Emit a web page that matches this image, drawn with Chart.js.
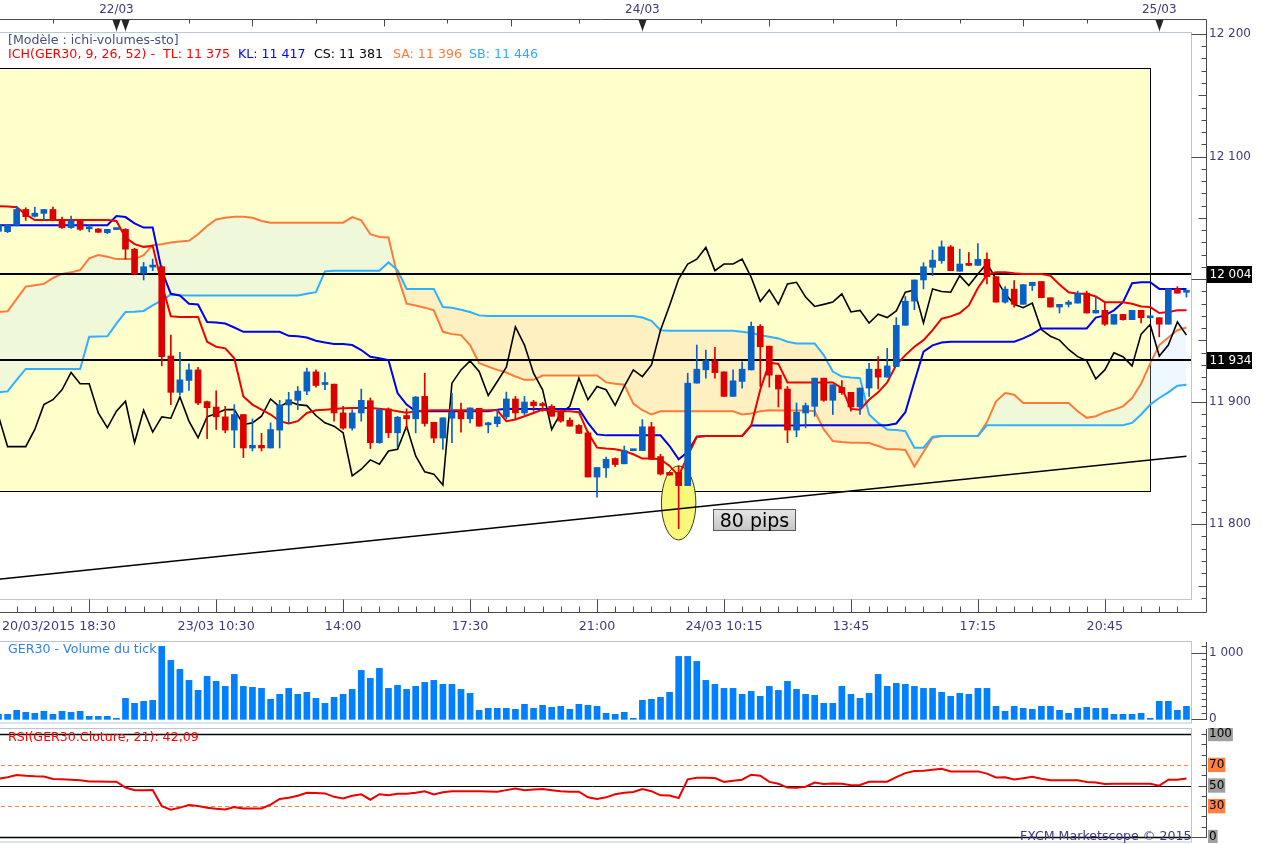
<!DOCTYPE html>
<html>
<head>
<meta charset="utf-8">
<title>GER30 ichimoku</title>
<script src="https://cdn.jsdelivr.net/npm/chart.js"></script>
<style>
  html, body { margin: 0; padding: 0; background: #fff; overflow: hidden; }
  #wrap { position: relative; width: 1263px; height: 844px; overflow: hidden; font-family: "DejaVu Sans", sans-serif; font-size: 12.6px; }
  canvas { position: absolute; left: -6px; }
  .txt { position: absolute; white-space: nowrap; line-height: 14px; }
  #pips { position: absolute; left: 713px; top: 509px; width: 81px; height: 20px; border: 1px solid #5a5a5a;
          background: linear-gradient(#e6e6e6, #c6c6c6); font-size: 19px; line-height: 20px; text-align: center; color: #000; }
</style>
</head>
<body>
<div id="wrap">
  <canvas id="main" width="1269" height="640" style="top:0"></canvas>
  <canvas id="vol" width="1269" height="83" style="top:641px"></canvas>
  <canvas id="rsi" width="1269" height="115" style="top:728px"></canvas>

  <div class="txt" style="left:8px;top:33px;color:#44507e">[Modèle : ichi-volumes-sto]</div>
  <div class="txt" style="left:8px;top:47px;color:#ff0000">ICH(GER30, 9, 26, 52) -</div>
  <div class="txt" style="left:163px;top:47px;color:#ff0000">TL: 11 375</div>
  <div class="txt" style="left:238px;top:47px;color:#0000ff">KL: 11 417</div>
  <div class="txt" style="left:314px;top:47px;color:#000000">CS: 11 381</div>
  <div class="txt" style="left:393px;top:47px;color:#ff7a3a">SA: 11 396</div>
  <div class="txt" style="left:469px;top:47px;color:#2eaaff">SB: 11 446</div>
  <div class="txt" style="left:8px;top:642px;color:#2f80f0">GER30 - Volume du tick</div>
  <div class="txt" style="left:8px;top:730px;color:#ff0000">RSI(GER30.Cloture, 21): 42,09</div>
  <div class="txt" style="left:1020px;top:829px;color:#3a3a80">FXCM Marketscope © 2015</div>
  <div id="pips">80 pips</div>
</div>

<script>
// 15 min candles, GER30
const opens = [
  12039, 12038.7, 12043.9, 12056.8, 12051.2, 12053.6, 12056.8, 12048.7, 12042.0, 12047.4,
  12041.0, 12040.9, 12037.9, 12040.4, 12040.6, 12024.4, 12004.7, 12009.8, 12010.1, 11937.3,
  11907.6, 11917.3, 11925.9, 11900.0, 11895.6, 11887.6, 11876.8, 11889.5, 11862.2, 11864.4,
  11862.2, 11876.8, 11897.3, 11901.1, 11908.6, 11924.3, 11914.0, 11914.3, 11890.8, 11878.4,
  11890.8, 11900.8, 11866.5, 11894.1, 11874.6, 11888.7, 11886.0, 11904.3, 11883.2, 11870.3,
  11886.5, 11892.2, 11886.0, 11894.6, 11881.1, 11882.0, 11887.6, 11902.2, 11890.8, 11899.7,
  11897.1, 11896.2, 11892.2, 11884.9, 11880.6, 11874.6, 11838.5, 11846.0, 11853.6, 11849.3,
  11860.0, 11860.1, 11879.5, 11855.2, 11842.3, 11842.3, 11831.5, 11915.1, 11926.0, 11933.2,
  11924.3, 11904.3, 11916.5, 11925.9, 11961.5, 11945.3, 11921.6, 11910.3, 11876.8, 11890.8,
  11896.2, 11919.2, 11901.1, 11911.6, 11907.6, 11895.7, 11911.1, 11926.5, 11920.0, 11928.6,
  11962.3, 11982.0, 11999.3, 12009.6, 12015.0, 12026.3, 12006.4, 12012.3, 12011.2, 12016.1,
  12002.0, 11981.2, 11991.8, 11979.4, 11994.7, 11998.0, 11984.8, 11977.2, 11979.4, 11980.4,
  11988.5, 11972.3, 11974.5, 11963.2, 11971.2, 11966.9, 11974.5, 11968.4, 11968.5, 11963.2,
  11992.0, 11989.2
];
const highs = [
  12046, 12044.7, 12059.5, 12058.2, 12058.7, 12056.8, 12058.7, 12050.6, 12051.4, 12048.7,
  12043.9, 12041.2, 12040.6, 12040.7, 12041.2, 12025.2, 12013.6, 12016.3, 12010.9, 11954.3,
  11940.2, 11930.8, 11928.1, 11900.5, 11908.9, 11896.2, 11897.6, 11889.5, 11885.9, 11874.1,
  11882.7, 11901.1, 11907.6, 11912.4, 11927.3, 11925.9, 11923.7, 11914.3, 11896.2, 11893.5,
  11910.3, 11903.0, 11894.6, 11894.9, 11888.1, 11894.1, 11904.3, 11923.2, 11883.2, 11886.8,
  11907.0, 11898.9, 11894.9, 11894.6, 11883.2, 11893.5, 11907.8, 11904.3, 11904.3, 11901.1,
  11899.5, 11897.6, 11893.5, 11886.8, 11881.4, 11875.7, 11846.3, 11854.7, 11854.1, 11863.8,
  11860.4, 11885.4, 11883.2, 11857.1, 11842.3, 11847.6, 11923.2, 11946.2, 11942.1, 11944.3,
  11924.3, 11925.9, 11932.4, 11965.0, 11962.9, 11945.3, 11921.6, 11912.4, 11898.9, 11898.9,
  11919.2, 11919.2, 11913.8, 11917.3, 11907.6, 11911.1, 11931.3, 11936.7, 11943.5, 11968.6,
  11985.8, 11999.3, 12013.4, 12023.6, 12031.2, 12027.4, 12024.4, 12021.7, 12029.0, 12021.5,
  12002.0, 11993.9, 11998.8, 11995.5, 11997.4, 11998.0, 11984.8, 11979.4, 11982.6, 11990.2,
  11990.2, 11985.3, 11980.4, 11971.2, 11971.2, 11974.5, 11974.5, 11969.5, 11968.5, 11992.0,
  11993.9, 11990.7
];
const lows = [
  12037, 12037.9, 12043.3, 12047.9, 12050.6, 12047.9, 12047.9, 12041.4, 12041.4, 12039.8,
  12038.5, 12038.0, 12037.1, 12040.3, 12016.3, 12003.6, 11999.3, 12006.9, 11929.2, 11897.6,
  11905.7, 11909.2, 11897.6, 11869.8, 11877.3, 11874.6, 11862.5, 11854.4, 11859.8, 11859.8,
  11862.2, 11862.2, 11882.7, 11893.5, 11905.7, 11911.9, 11909.7, 11884.1, 11877.3, 11876.8,
  11884.1, 11861.7, 11866.0, 11870.6, 11862.5, 11877.3, 11874.6, 11880.0, 11866.5, 11861.1,
  11866.5, 11875.2, 11882.7, 11880.0, 11874.6, 11879.5, 11886.0, 11885.4, 11889.5, 11892.2,
  11892.2, 11888.1, 11883.2, 11880.0, 11874.1, 11838.5, 11822.0, 11838.2, 11847.1, 11849.3,
  11859.9, 11860.1, 11853.0, 11840.1, 11840.1, 11796.4, 11831.5, 11915.1, 11919.2, 11919.2,
  11904.3, 11904.3, 11911.1, 11925.9, 11912.4, 11911.9, 11895.7, 11866.5, 11871.4, 11878.7,
  11888.1, 11900.3, 11889.5, 11906.0, 11892.2, 11889.5, 11904.3, 11910.3, 11920.0, 11928.6,
  11962.3, 11975.0, 11992.0, 12002.8, 12012.8, 12006.9, 12006.4, 12011.2, 12011.2, 11996.1,
  11981.2, 11980.4, 11977.2, 11979.4, 11990.7, 11984.8, 11977.2, 11972.3, 11977.2, 11980.4,
  11972.3, 11972.3, 11962.3, 11963.2, 11966.4, 11966.9, 11964.2, 11967.9, 11952.9, 11963.2,
  11988.5, 11985.3
];
const closes = [
  12044, 12044.1, 12056.8, 12050.9, 12053.8, 12056.8, 12048.7, 12042.0, 12047.4, 12040.6,
  12041.4, 12038.2, 12040.6, 12040.6, 12024.4, 12004.2, 12010.1, 12010.2, 11936.7, 11907.6,
  11917.8, 11925.9, 11898.9, 11895.1, 11887.6, 11876.8, 11889.5, 11862.2, 11864.4, 11862.2,
  11877.3, 11897.3, 11901.6, 11908.6, 11924.3, 11913.2, 11914.6, 11890.8, 11878.4, 11890.8,
  11901.1, 11866.5, 11893.5, 11874.6, 11887.3, 11886.0, 11903.8, 11882.2, 11870.3, 11886.8,
  11891.4, 11886.0, 11894.9, 11880.0, 11882.7, 11887.6, 11902.2, 11890.8, 11899.7, 11896.8,
  11896.8, 11888.1, 11884.1, 11880.0, 11874.1, 11838.5, 11846.3, 11853.0, 11848.7, 11860.1,
  11860.2, 11879.5, 11853.0, 11840.9, 11840.1, 11831.5, 11915.1, 11926.5, 11933.5, 11923.7,
  11904.3, 11917.0, 11926.5, 11961.5, 11944.8, 11921.6, 11910.3, 11876.8, 11891.4, 11896.8,
  11919.2, 11901.1, 11913.8, 11907.3, 11895.7, 11911.1, 11926.5, 11920.0, 11929.2, 11962.3,
  11982.0, 11999.3, 12010.1, 12015.5, 12026.3, 12006.9, 12012.3, 12011.2, 12016.1, 12002.0,
  11981.2, 11991.8, 11979.4, 11995.5, 11997.4, 11984.8, 11977.2, 11979.4, 11981.2, 11988.5,
  11972.3, 11974.5, 11963.2, 11971.2, 11966.9, 11974.5, 11968.5, 11968.6, 11963.2, 11992.0,
  11988.5, 11989.5
];

// ichimoku lines
const tenkan = [
  12059.5, 12059.2, 12058.7, 12052.8, 12048.2, 12048.2, 12048.2, 12048.2, 12048.2, 12048.2,
  12048.2, 12048.2, 12048.2, 12047.4, 12033.9, 12028.5, 12026.3, 12027.1, 11996.1, 11969.6,
  11969.1, 11969.1, 11969.1, 11948.9, 11944.8, 11943.5, 11935.4, 11904.3, 11897.6, 11893.5,
  11889.5, 11884.1, 11882.2, 11884.1, 11890.8, 11893.0, 11893.5, 11894.1, 11894.6, 11894.9,
  11894.9, 11894.9, 11894.3, 11893.5, 11892.2, 11891.0, 11892.2, 11892.7, 11893.0, 11893.0,
  11893.0, 11893.0, 11893.0, 11893.0, 11893.0, 11893.0, 11884.1, 11885.4, 11888.1, 11890.8,
  11893.5, 11892.2, 11892.2, 11892.2, 11891.4, 11874.6, 11862.5, 11861.7, 11861.1, 11859.8,
  11857.1, 11853.6, 11853.6, 11853.0, 11847.6, 11839.5, 11855.7, 11871.4, 11872.0, 11872.0,
  11872.0, 11872.0, 11872.0, 11880.6, 11909.7, 11931.9, 11930.8, 11915.7, 11915.7, 11915.7,
  11915.7, 11915.7, 11915.7, 11911.1, 11894.1, 11893.5, 11901.6, 11907.6, 11915.7, 11930.0,
  11938.0, 11944.8, 11950.2, 11958.3, 11967.7, 11969.6, 11972.3, 11978.5, 11992.8, 12003.4,
  12005.5, 12005.5, 12004.7, 12004.2, 12004.2, 12004.2, 12002.8, 11995.5, 11989.3, 11988.0,
  11988.0, 11985.8, 11981.2, 11981.2, 11981.2, 11979.9, 11977.7, 11977.2, 11972.3, 11973.2,
  11974.5, 11974.5
];
const kijun = [
  12043.9, 12043.9, 12043.9, 12043.9, 12043.9, 12043.9, 12043.9, 12043.9, 12043.9, 12043.9,
  12043.9, 12043.9, 12043.9, 12051.4, 12050.6, 12045.5, 12042.0, 12042.0, 12006.9, 11988.0,
  11986.6, 11979.9, 11979.3, 11965.0, 11964.5, 11963.7, 11960.5, 11957.0, 11957.0, 11957.0,
  11957.0, 11957.0, 11953.7, 11953.4, 11952.4, 11949.7, 11948.3, 11947.0, 11947.0, 11946.2,
  11942.1, 11936.7, 11935.4, 11934.0, 11907.0, 11897.6, 11892.2, 11892.2, 11892.2, 11892.2,
  11892.2, 11892.2, 11892.2, 11892.2, 11892.2, 11893.5, 11894.3, 11894.1, 11894.1, 11894.1,
  11894.1, 11894.1, 11894.1, 11894.1, 11894.1, 11882.7, 11873.3, 11872.5, 11872.5, 11872.5,
  11872.5, 11872.5, 11872.5, 11872.5, 11863.8, 11853.0, 11859.0, 11871.4, 11872.0, 11872.0,
  11872.0, 11872.0, 11872.0, 11880.6, 11880.6, 11880.6, 11880.6, 11880.6, 11880.6, 11880.8,
  11880.8, 11880.8, 11880.8, 11880.8, 11880.8, 11880.8, 11880.8, 11880.8, 11880.8, 11882.2,
  11891.4, 11916.5, 11940.8, 11945.9, 11948.3, 11948.9, 11948.9, 11948.9, 11948.9, 11948.9,
  11948.9, 11948.9, 11948.9, 11951.6, 11955.1, 11959.7, 11959.7, 11959.7, 11959.7, 11959.7,
  11959.7, 11968.6, 11970.4, 11974.5, 11981.2, 11996.6, 11997.4, 11997.4, 11992.0, 11992.0,
  11992.0, 11992.0
];
const chikou = [
  11888.1, 11863.3, 11863.3, 11863.3, 11877.3, 11897.6, 11901.6, 11909.7, 11923.8, 11914.6,
  11914.6, 11890.8, 11878.7, 11892.2, 11900.3, 11866.5, 11893.0, 11875.2, 11887.6, 11886.5,
  11903.8, 11884.1, 11870.6, 11887.6, 11890.3, 11893.5, 11893.5, 11881.4, 11882.7, 11888.1,
  11902.2, 11895.7, 11900.3, 11897.6, 11896.8, 11888.7, 11882.7, 11880.0, 11874.6, 11839.5,
  11844.9, 11852.5, 11849.0, 11859.8, 11861.1, 11880.0, 11855.7, 11842.8, 11840.9, 11832.0,
  11915.1, 11925.9, 11933.2, 11924.6, 11905.1, 11916.5, 11928.1, 11961.0, 11946.2, 11923.2,
  11909.7, 11877.3, 11890.8, 11896.2, 11919.2, 11901.6, 11912.4, 11909.7, 11897.0, 11912.4,
  11925.9, 11920.5, 11930.0, 11958.3, 11978.5, 12000.1, 12012.3, 12016.3, 12025.8, 12006.9,
  12012.3, 12012.3, 12016.3, 12001.5, 11981.8, 11991.2, 11979.4, 11996.1, 11997.4, 11985.3,
  11977.7, 11979.4, 11981.2, 11988.0, 11973.2, 11974.5, 11964.2, 11971.3, 11968.6, 11974.0,
  11989.3, 11991.2, 11964.2, 11992.0, 11989.9, 11989.3, 12002.8, 11994.7, 12004.2, 12012.8,
  12000.1, 11988.0, 11979.4, 11976.7, 11980.4, 11958.8, 11953.4, 11950.2, 11942.6, 11936.7,
  11933.5, 11918.6, 11925.9, 11939.9, 11936.7, 11929.2, 11955.1, 11962.9, 11937.2, 11946.2,
  11965.0, 11954.3
];
const senkouA = [
  11973.2, 11973.7, 11983.9, 11993.9, 11995.0, 11996.1, 12000.9, 12004.2, 12005.5, 12007.4,
  12016.9, 12019.6, 12018.2, 12016.3, 12016.3, 12016.3, 12019.6, 12027.7, 12028.5, 12029.8,
  12030.6, 12031.2, 12036.6, 12043.3, 12048.7, 12050.1, 12050.9, 12050.9, 12050.1, 12047.4,
  12046.0, 12046.0, 12046.0, 12046.0, 12046.0, 12046.0, 12046.0, 12046.0, 12046.0, 12050.6,
  12047.9, 12036.6, 12034.4, 12033.9, 12002.8, 11979.9, 11978.5, 11976.7, 11974.5, 11957.0,
  11955.1, 11954.3, 11946.2, 11931.3, 11928.6, 11925.9, 11923.8, 11920.5, 11917.8, 11917.8,
  11921.3, 11921.3, 11921.3, 11921.3, 11921.3, 11921.3, 11921.3, 11915.7, 11914.6, 11913.8,
  11898.4, 11893.0, 11889.5, 11892.2, 11892.2, 11892.2, 11892.2, 11892.2, 11892.2, 11892.2,
  11892.2, 11892.2, 11889.5, 11890.3, 11892.2, 11893.0, 11892.7, 11892.7, 11892.7, 11892.7,
  11892.2, 11877.3, 11867.9, 11867.1, 11866.5, 11866.5, 11866.3, 11863.8, 11861.1, 11861.1,
  11860.6, 11847.1, 11859.0, 11870.6, 11872.0, 11872.0, 11872.0, 11872.0, 11872.0, 11883.3,
  11900.3, 11907.0, 11905.7, 11898.9, 11898.9, 11898.9, 11898.9, 11898.9, 11898.9, 11892.2,
  11886.8, 11888.1, 11891.4, 11893.5, 11896.2, 11903.0, 11914.6, 11931.3, 11946.2, 11952.4,
  11958.3, 11960.5
];
const senkouB = [
  11907.6, 11908.4, 11917.8, 11926.7, 11926.7, 11926.7, 11926.7, 11926.7, 11926.7, 11926.7,
  11952.9, 11953.2, 11953.4, 11963.7, 11973.2, 11973.4, 11974.0, 11978.5, 11982.6, 11987.4,
  11986.9, 11986.6, 11986.6, 11986.6, 11986.6, 11986.6, 11986.6, 11986.6, 11986.6, 11986.6,
  11986.6, 11986.6, 11986.6, 11986.6, 11988.0, 11989.3, 12006.3, 12006.9, 12006.9, 12006.9,
  12006.9, 12006.9, 12006.9, 12013.6, 12007.4, 11992.0, 11992.0, 11992.0, 11992.0, 11977.2,
  11976.7, 11975.0, 11973.2, 11970.4, 11969.9, 11969.9, 11969.9, 11969.9, 11969.9, 11969.9,
  11969.9, 11969.9, 11969.9, 11969.9, 11969.9, 11969.9, 11969.9, 11969.9, 11969.9, 11969.9,
  11969.9, 11968.6, 11965.9, 11958.3, 11957.8, 11957.8, 11957.8, 11957.8, 11957.8, 11957.8,
  11957.8, 11957.8, 11957.0, 11956.1, 11954.3, 11952.9, 11951.6, 11948.9, 11947.5, 11947.5,
  11947.5, 11938.0, 11924.6, 11920.5, 11919.7, 11919.2, 11889.5, 11882.7, 11877.3, 11876.8,
  11876.0, 11862.5, 11862.5, 11871.4, 11872.0, 11872.0, 11872.0, 11872.0, 11872.0, 11880.8,
  11880.8, 11880.8, 11880.8, 11880.8, 11880.8, 11880.8, 11880.8, 11880.8, 11880.8, 11880.8,
  11880.8, 11880.8, 11880.8, 11880.8, 11880.8, 11882.7, 11889.5, 11897.6, 11903.0, 11907.6,
  11913.0, 11913.8
];

const volume = [
  75, 75, 135, 105, 90, 120, 75, 120, 105, 120, 45, 45, 45, 15, 315, 240, 270, 285, 1095, 885,
  750, 585, 435, 645, 570, 495, 675, 495, 480, 465, 300, 375, 465, 375, 405, 315, 240, 330, 375, 450,
  735, 615, 765, 465, 510, 450, 495, 555, 585, 525, 525, 450, 390, 135, 165, 165, 165, 150, 225, 165,
  210, 180, 195, 150, 225, 210, 195, 90, 75, 105, 15, 285, 300, 330, 405, 945, 945, 870, 585, 525,
  465, 465, 375, 420, 345, 495, 435, 570, 450, 375, 360, 240, 240, 495, 375, 315, 390, 675, 495, 540,
  525, 495, 465, 465, 405, 345, 390, 375, 465, 465, 195, 120, 195, 165, 150, 195, 195, 135, 90, 165,
  180, 165, 165, 75, 75, 75, 90, 15, 270, 270, 135, 195
];

const rsi = [
  56.6, 58, 60.2, 59.5, 59, 58.8, 56.3, 56, 55.6, 55,
  54, 53.8, 53.7, 53.7, 48, 45.5, 45.3, 45.6, 30, 26.5,
  28.5, 31, 30, 28.5, 27.5, 26.8, 29, 27.8, 27.8, 27.8,
  31.4, 37, 38.2, 40, 43, 42.8, 42.3, 39, 37.5, 40,
  41.4, 36.2, 41.5, 40.5, 42, 42, 43, 44.3, 41.4, 43.5,
  44.3, 44.3, 44.3, 44.3, 44.2, 44, 45.5, 47, 45.5, 46,
  46.5, 45.5, 44.5, 44, 44, 38.5, 37, 38.5, 41.5, 43,
  43.7, 46.5, 44.5, 40.5, 40.2, 37.9, 56, 57.5, 57.6, 57.2,
  53.5, 54.5, 55.6, 60.5, 59.5, 53.5, 51.7, 48, 47.9, 48.8,
  52.8, 51.5, 52, 51.7, 50.3, 50.5, 53.7, 53.7, 53.7, 58.2,
  62, 64, 64.4, 65.3, 66.3, 63.7, 63.7, 63.7, 63.7, 61.5,
  57.8, 57.9, 55.9, 57, 58.5, 56.5, 55, 55, 55, 55,
  53.4, 53, 51.5, 51.7, 51.7, 51.7, 51.7, 51.7, 49.8, 55.6,
  55.6, 56.9
];

// axis labels (candle index, 0 based)
const timeTickIdx = [10, 24, 38, 52, 66, 80, 94, 108, 122];
const timeTickText = ['20/03/2015 18:30', '23/03 10:30', '14:00', '17:30', '21:00', '24/03 10:15', '13:45', '17:15', '20:45'];
const dateTickIdx = [13, 71, 128];
const dateTickText = ['22/03', '24/03', '25/03'];
const dayMarkIdx = [13, 14, 71, 128];
const topTickIdx = [6, 21, 28, 35, 42.5, 49.5, 56.5, 64, 77.5, 85, 92, 99, 106, 113, 120];
const topTickMajor = [0, 0, 1, 0, 1, 0, 1, 0, 0, 1, 0, 1, 0, 1, 0];
const rsiLabels = [0, 30, 50, 70, 100];

// drawings on the chart
const levels = [12004, 11934];
const trendEnds = [11755.2, 11855.4];
const boxEndIdx = 127, boxTop = 12172.3, boxBottom = 11827.2;
const ovalIdx = 75, ovalPrice = 11817.4, ovalHalfW = 1.9, ovalHalfH = 30.2;

const priceMin = 11739.0, priceMax = 12201.6;

const UP = '#0862c6', DOWN = '#dd0000';
const AXIS = '#3b3b7d', FRAME = '#4a4a4a', BORDER = '#b9c6d6';
const FONT = { family: '"DejaVu Sans", sans-serif', size: 12 };

const n = opens.length;
const xIdx = opens.map((_, i) => i);
const fmt = v => String(Math.round(v)).replace(/\B(?=(\d{3})+(?!\d))/g, ' ');
const candleColor = c => closes[c.dataIndex] >= opens[c.dataIndex] ? UP : DOWN;
const trendData = xIdx.map(i => i === 0 ? trendEnds[0] : (i === n - 1 ? trendEnds[1] : null));

function rightAxis(opts) {
  return Object.assign({
    position: 'right',
    beginAtZero: false,
    grid: { display: false, drawTicks: false },
    border: { display: false },
    afterFit: s => { s.width = 72; s.paddingTop = 0; s.paddingBottom = 0; }
  }, opts);
}

function axisTicks(ctx, axX, scale, from, to, step, lenFn) {
  ctx.beginPath();
  for (let v = from; v <= to; v += step) {
    const py = Math.round(scale.getPixelForValue(v)) + 0.5;
    ctx.moveTo(axX - lenFn(v), py);
    ctx.lineTo(axX, py);
  }
  ctx.stroke();
}

const mainDecor = {
  id: 'mainDecor',
  beforeDatasetsDraw(chart) {
    const { ctx, chartArea: a, scales: { x, y } } = chart;
    ctx.save();
    const rx0 = a.left - 2;
    const rx1 = Math.round(x.getPixelForValue(boxEndIdx)) + 0.5;
    const ry0 = Math.round(y.getPixelForValue(boxTop)) + 0.5;
    const ry1 = Math.round(y.getPixelForValue(boxBottom)) + 0.5;
    ctx.fillStyle = '#ffffcc';
    ctx.fillRect(rx0, ry0, rx1 - rx0, ry1 - ry0);
    ctx.strokeStyle = '#000';
    ctx.lineWidth = 1;
    ctx.strokeRect(rx0, ry0, rx1 - rx0, ry1 - ry0);

    const ex = x.getPixelForValue(ovalIdx), ey = y.getPixelForValue(ovalPrice);
    const erx = x.getPixelForValue(ovalIdx + ovalHalfW) - ex;
    const ery = y.getPixelForValue(ovalPrice - ovalHalfH) - ey;
    ctx.beginPath();
    ctx.ellipse(ex, ey, erx, ery, 0, 0, Math.PI * 2);
    ctx.fillStyle = '#f8f87a';
    ctx.fill();
    ctx.strokeStyle = '#3a3a20';
    ctx.stroke();
    ctx.restore();
  },
  afterDatasetDraw(chart, args) {
    if (args.index !== 6) return;
    const { ctx, chartArea: a, scales: { y } } = chart;
    ctx.save();
    ctx.strokeStyle = '#000';
    ctx.lineWidth = 2;
    ctx.beginPath();
    levels.forEach(v => {
      const py = Math.round(y.getPixelForValue(v));
      ctx.moveTo(a.left, py);
      ctx.lineTo(a.right, py);
    });
    ctx.stroke();
    ctx.restore();
  },
  afterDraw(chart) {
    const { ctx, chartArea: a, scales: { x, y } } = chart;
    const axX = Math.round(a.right) + 15.5;
    const topY = 19.5, botY = 612.5;
    ctx.save();
    ctx.lineWidth = 1;

    ctx.strokeStyle = BORDER;
    ctx.strokeRect(a.left - 1, Math.round(a.top) + 0.5, Math.round(a.right) - a.left + 1.5, Math.round(a.bottom - a.top));

    // day separators under the markers
    ctx.beginPath();
    dayMarkIdx.forEach(k => {
      const px = Math.round(x.getPixelForValue(k)) + 0.5;
      ctx.moveTo(px, topY);
      ctx.lineTo(px, a.top);
    });
    ctx.stroke();

    ctx.strokeStyle = FRAME;
    ctx.beginPath();
    ctx.moveTo(0, topY); ctx.lineTo(axX, topY); ctx.lineTo(axX, botY); ctx.lineTo(0, botY);
    ctx.stroke();

    axisTicks(ctx, axX, y, 11740, 12200, 10, v => v % 100 === 0 ? 15 : (v % 50 === 0 ? 8 : 5));

    ctx.beginPath();
    for (let k = 0; k < n; k += 2) {
      const px = Math.round(x.getPixelForValue(k)) + 0.5;
      ctx.moveTo(px, botY - (timeTickIdx.includes(k) ? 13 : 6));
      ctx.lineTo(px, botY);
    }
    topTickIdx.forEach((k, j) => {
      const px = Math.round(x.getPixelForValue(k)) + 0.5;
      ctx.moveTo(px, topY);
      ctx.lineTo(px, topY + (topTickMajor[j] ? 7 : 4));
    });
    ctx.stroke();

    ctx.fillStyle = '#262626';
    dayMarkIdx.forEach(k => {
      const px = Math.round(x.getPixelForValue(k)) + 0.5;
      ctx.beginPath();
      ctx.moveTo(px - 4, topY + 0.5);
      ctx.lineTo(px + 4, topY + 0.5);
      ctx.lineTo(px, topY + 11.5);
      ctx.closePath();
      ctx.fill();
    });

    ctx.font = '12px "DejaVu Sans", sans-serif';
    ctx.fillStyle = AXIS;
    ctx.textBaseline = 'middle';
    ctx.textAlign = 'center';
    dateTickIdx.forEach((k, j) => ctx.fillText(dateTickText[j], x.getPixelForValue(k), 10));
    ctx.font = '12.7px "DejaVu Sans", sans-serif';
    timeTickIdx.forEach((k, j) => {
      // the first label sits against the left edge, the others are centred on their tick
      ctx.textAlign = j === 0 ? 'left' : 'center';
      ctx.fillText(timeTickText[j], j === 0 ? 8 : x.getPixelForValue(k), 627);
    });

    ctx.font = '12px "DejaVu Sans", sans-serif';
    ctx.textAlign = 'left';
    levels.forEach(v => {
      const py = Math.round(y.getPixelForValue(v));
      ctx.fillStyle = '#000';
      ctx.fillRect(axX + 0.5, py - 8, 45, 17);
      ctx.fillStyle = '#fff';
      ctx.fillText(fmt(v), axX + 3, py + 0.5);
    });
    ctx.restore();
  }
};

const volDecor = {
  id: 'volDecor',
  afterDraw(chart) {
    const { ctx, chartArea: a, scales: { y } } = chart;
    const axX = Math.round(a.right) + 15.5;
    ctx.save();
    ctx.lineWidth = 1;
    ctx.strokeStyle = BORDER;
    ctx.strokeRect(a.left - 1, 0.5, Math.round(a.right) - a.left + 1.5, Math.round(a.bottom) - 1.5);
    ctx.strokeStyle = FRAME;
    ctx.beginPath();
    ctx.moveTo(axX, 1);
    ctx.lineTo(axX, Math.round(y.getPixelForValue(0)) + 1);
    ctx.stroke();
    axisTicks(ctx, axX, y, 0, 1100, 100, v => (v === 0 || v === 1000) ? 15 : 5);
    ctx.restore();
  }
};

const rsiDecor = {
  id: 'rsiDecor',
  beforeDatasetsDraw(chart) {
    const { ctx, chartArea: a, scales: { y } } = chart;
    ctx.save();
    const hline = (v, color, width, dash) => {
      const py = Math.round(y.getPixelForValue(v)) + 0.5;
      ctx.strokeStyle = color;
      ctx.lineWidth = width;
      ctx.setLineDash(dash);
      ctx.beginPath();
      ctx.moveTo(a.left, py);
      ctx.lineTo(a.right, py);
      ctx.stroke();
    };
    hline(70, '#ff8040', 1, [4, 3]);
    hline(30, '#ff8040', 1, [4, 3]);
    hline(50, '#000', 1, []);
    hline(100, '#000', 1.5, []);
    hline(0, '#000', 1.5, []);
    ctx.restore();
  },
  afterDraw(chart) {
    const { ctx, chartArea: a, scales: { y } } = chart;
    const axX = Math.round(a.right) + 15.5;
    ctx.save();
    ctx.lineWidth = 1;
    ctx.strokeStyle = BORDER;
    ctx.strokeRect(a.left - 1, 0.5, Math.round(a.right) - a.left + 1.5, Math.round(a.bottom) - 1.5);
    ctx.strokeStyle = FRAME;
    ctx.beginPath();
    ctx.moveTo(axX, 1);
    ctx.lineTo(axX, Math.round(y.getPixelForValue(0)) + 1);
    ctx.stroke();
    axisTicks(ctx, axX, y, 0, 100, 10, v => v === 0 ? 15 : (v === 50 ? 8 : 5));
    ctx.restore();
  }
};

const baseOptions = {
  responsive: false,
  animation: false,
  events: [],
  layout: { padding: 0 },
  plugins: { legend: { display: false }, tooltip: { enabled: false } }
};

new Chart(document.getElementById('main'), {
  type: 'bar',
  data: {
    labels: xIdx,
    datasets: [
      { label: 'body', data: opens.map((o, i) => [o, closes[i]]), backgroundColor: candleColor,
        barThickness: 6, minBarLength: 2, grouped: false, order: 1 },
      { label: 'wick', data: lows.map((l, i) => [l, highs[i]]), backgroundColor: candleColor,
        barThickness: 1, grouped: false, order: 2 },
      { type: 'line', label: 'TL', data: tenkan, borderColor: '#ee0000', borderWidth: 2, pointRadius: 0, order: 3 },
      { type: 'line', label: 'KL', data: kijun, borderColor: '#0000ee', borderWidth: 2, pointRadius: 0, order: 4 },
      { type: 'line', label: 'CS', data: chikou, borderColor: '#000000', borderWidth: 1.6, pointRadius: 0, order: 5 },
      { type: 'line', label: 'trend', data: trendData, borderColor: '#000000', borderWidth: 1.5, pointRadius: 0,
        spanGaps: true, order: 6 },
      { type: 'line', label: 'SB', data: senkouB, borderColor: '#2eb0ff', borderWidth: 2, pointRadius: 0, order: 7 },
      { type: 'line', label: 'SA', data: senkouA, borderColor: '#ff7a3a', borderWidth: 2, pointRadius: 0, order: 8,
        fill: { target: 6, above: 'rgba(190,225,255,0.24)', below: 'rgba(250,165,140,0.17)' } }
    ]
  },
  options: Object.assign({}, baseOptions, {
    layout: { padding: { top: 32, bottom: 41, left: 0, right: 0 } },
    scales: {
      x: { display: false, offset: true },
      y: rightAxis({
        min: priceMin, max: priceMax,
        ticks: { stepSize: 10, autoSkip: false, includeBounds: false, padding: 18, color: AXIS, font: FONT,
                 callback: v => Math.round(v) % 100 === 0 ? fmt(v) : null }
      })
    }
  }),
  plugins: [mainDecor]
});

new Chart(document.getElementById('vol'), {
  type: 'bar',
  data: {
    labels: xIdx,
    datasets: [{ label: 'Volume du tick', data: volume, backgroundColor: '#0080ff', barThickness: 6 }]
  },
  options: Object.assign({}, baseOptions, {
    scales: {
      x: { display: false, offset: true },
      y: rightAxis({
        min: -70, max: 1176,
        ticks: { stepSize: 100, autoSkip: false, includeBounds: false, padding: 18, color: AXIS, font: FONT,
                 callback: v => v === 1000 ? fmt(v) : (v === 0 ? '0' : null) }
      })
    }
  }),
  plugins: [volDecor]
});

new Chart(document.getElementById('rsi'), {
  type: 'line',
  data: {
    labels: xIdx,
    datasets: [{ label: 'RSI', data: rsi, borderColor: '#ee0000', borderWidth: 2, pointRadius: 0 }]
  },
  options: Object.assign({}, baseOptions, {
    scales: {
      x: { display: false, offset: true },
      y: rightAxis({
        min: -5.8, max: 105.8,
        ticks: { stepSize: 10, autoSkip: false, includeBounds: false, padding: 18, color: '#000', font: FONT,
                 showLabelBackdrop: true,
                 backdropPadding: { top: 0, bottom: 0, left: 1, right: 1 },
                 backdropColor: c => !rsiLabels.includes(c.tick.value) ? 'rgba(0,0,0,0)'
                   : ((c.tick.value === 70 || c.tick.value === 30) ? '#ff8040' : '#a0a0a0'),
                 callback: v => rsiLabels.includes(v) ? String(v) : null }
      })
    }
  }),
  plugins: [rsiDecor]
});
</script>
</body>
</html>
